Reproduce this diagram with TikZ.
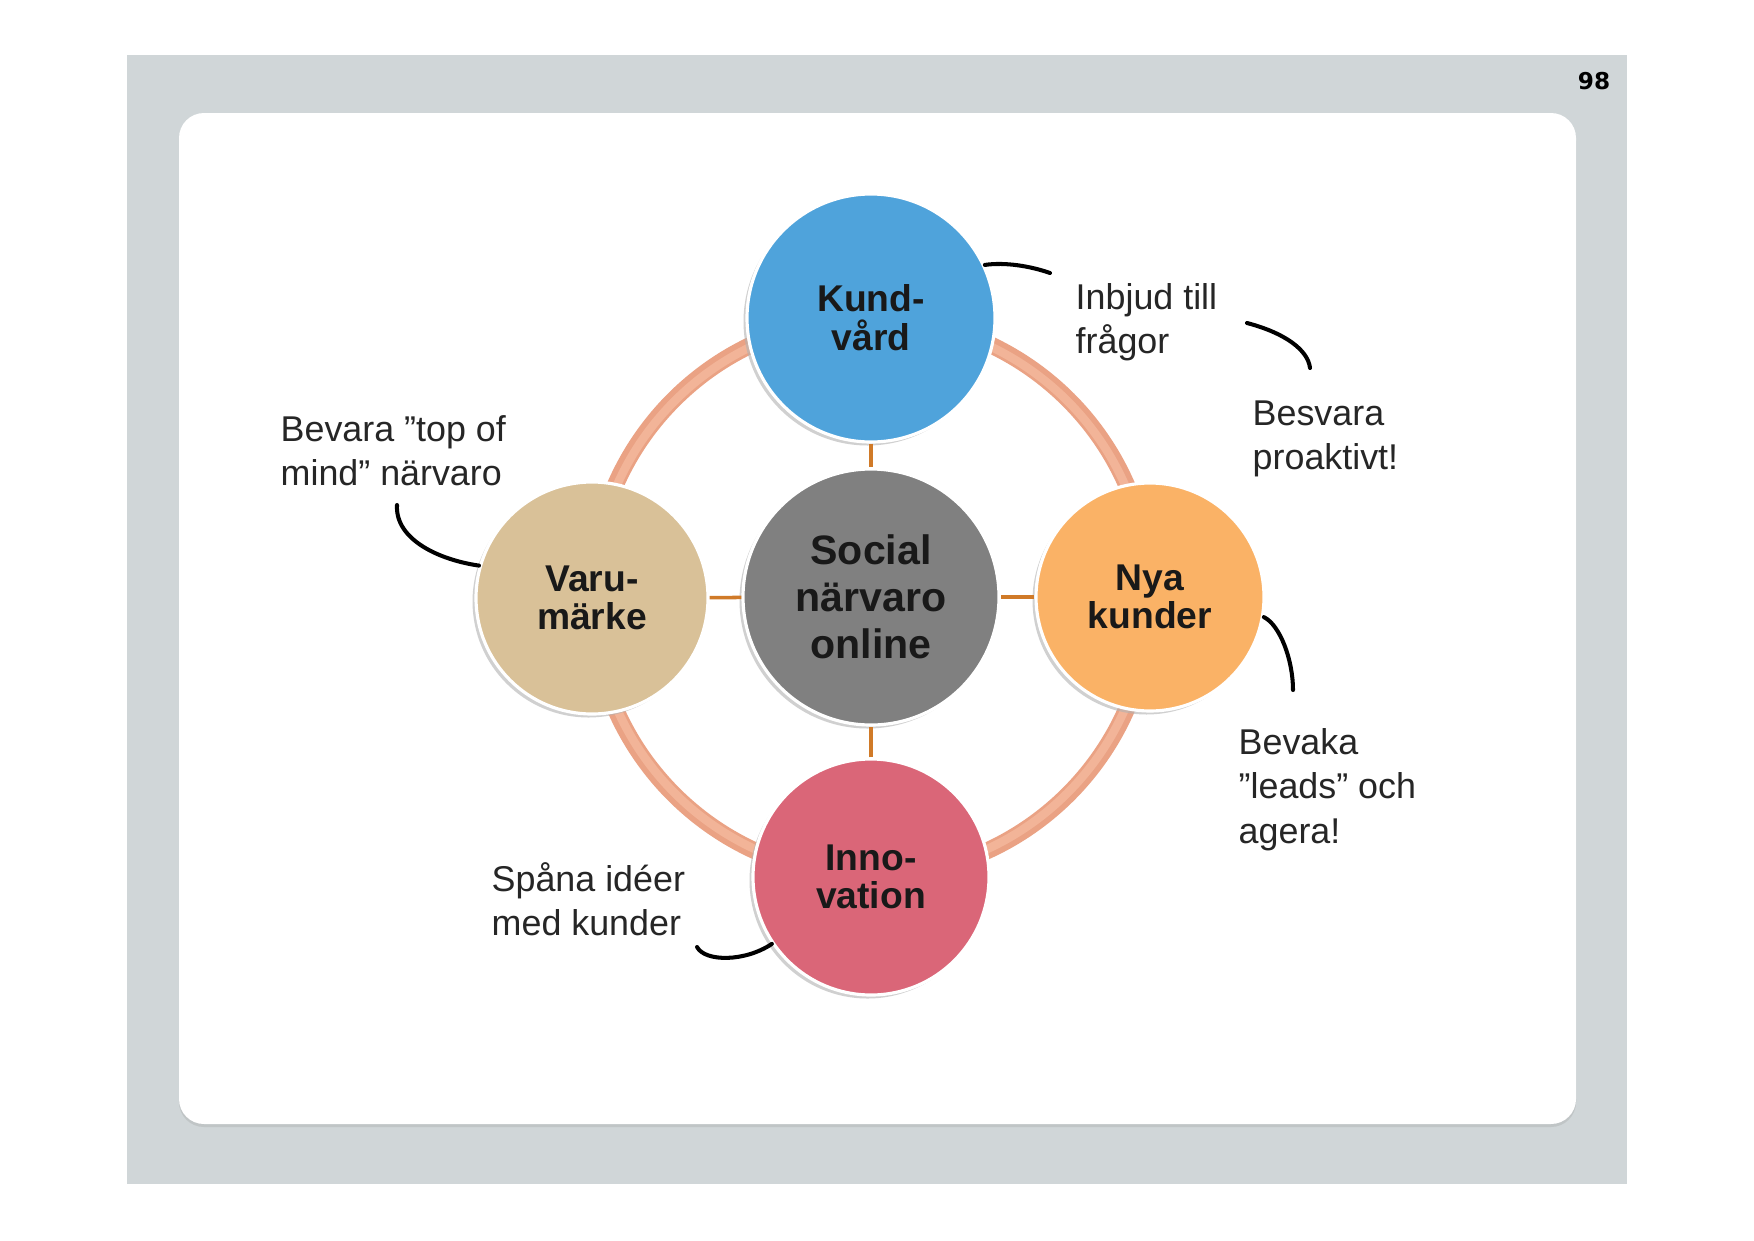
\documentclass[tikz,border=0pt]{standalone}
\usepackage{fontspec}
\setmainfont{Liberation Sans}
\newfontfamily\pagefont{DejaVu Sans}
\usetikzlibrary{shadows}
\definecolor{pagegray}{RGB}{208,214,216}
\definecolor{kundblue}{RGB}{79,163,219}
\definecolor{socgray}{RGB}{128,128,128}
\definecolor{varutan}{RGB}{217,193,152}
\definecolor{nyaorange}{RGB}{250,178,102}
\definecolor{innopink}{RGB}{218,102,120}
\definecolor{ringsalmon}{RGB}{234,162,132}
\definecolor{ringlight}{RGB}{242,180,152}
\definecolor{linkorange}{RGB}{208,122,40}
\begin{document}
\begin{tikzpicture}[x=0.1mm,y=-0.1mm,inner sep=0,
	bubble/.style={circle,draw=white,line width=0.9pt,align=center,text=black!90,
		font=\bfseries\fontsize{10.6}{11}\selectfont,
		drop shadow={shadow xshift=-0.35mm,shadow yshift=-0.35mm,fill=gray!60,opacity=0.6}},
	remark/.style={anchor=north west,align=left,text=black!85,font=\fontsize{10.2}{12.6}\selectfont},
	remarkline/.style={line width=1.15pt,line cap=round},
	link/.style={draw=linkorange,line width=1pt}]
		\useasboundingbox (0,0) rectangle (1754,1240);
		\fill[pagegray] (127,55) rectangle (1627,1184);
		\fill[gray!20!pagegray,rounded corners=2.5mm] (179,116) rectangle (1576,1127);
		\fill[white,rounded corners=2.5mm] (179,113) rectangle (1576,1124);
		\node[font=\pagefont\bfseries\fontsize{6.6}{8}\selectfont] (pagenum) at (1594,81) {98};
		\draw[ringsalmon,line width=4.8pt] (871,597) circle[radius=27.9mm];
		\draw[ringlight,line width=2.4pt] (871,597) circle[radius=27.75mm];
		\node[bubble,fill=kundblue,minimum size=24.8mm] (kund) at (871,318) {Kund-\\vård};
		\node[bubble,fill=socgray,minimum size=25.6mm,font=\bfseries\fontsize{11.7}{13.4}\selectfont] (soc) at (871,597) {Social\\närvaro\\online};
		\node[bubble,fill=varutan,minimum size=23.2mm] (varu) at (592,598) {Varu-\\märke};
		\node[bubble,fill=nyaorange,minimum size=22.8mm] (nya) at (1150,597) {Nya\\kunder};
		\node[bubble,fill=innopink,minimum size=23.6mm] (inno) at (871,877) {Inno-\\vation};
		\draw[link] (kund) -- (soc);
		\draw[link] (varu) -- (soc);
		\draw[link] (nya) -- (soc);
		\draw[link] (inno) -- (soc);
		\node[remark] (inbjud) at (1075,283) {Inbjud till\\frågor};
		\node[remark] (besvara) at (1252,400) {Besvara\\proaktivt!};
		\node[remark] (bevara) at (280,415) {Bevara ”top of\\mind” närvaro};
		\node[remark] (bevaka) at (1238,728) {Bevaka\\”leads” och\\agera!};
		\node[remark] (spana) at (491,862) {Spåna idéer\\med kunder};
		\coordinate (inbjudend) at (1050,273);
		\draw[remarkline] (kund.25) .. controls (1005,262) and (1030,266) .. (inbjudend);
		\coordinate (svarstart) at (1247,323);
		\coordinate (svarend) at (1310,368);
		\draw[remarkline] (svarstart) .. controls (1285,333) and (1308,350) .. (svarend);
		\coordinate (bevarastart) at (397,505);
		\draw[remarkline] (bevarastart) .. controls (395,540) and (440,560) .. (varu.164);
		\coordinate (bevakaend) at (1293,690);
		\draw[remarkline] (nya.-10) .. controls (1280,625) and (1293,660) .. (bevakaend);
		\coordinate (spanastart) at (697,947);
		\draw[remarkline] (spanastart) .. controls (705,962) and (745,962) .. (inno.214);
	\end{tikzpicture}
\end{document}
